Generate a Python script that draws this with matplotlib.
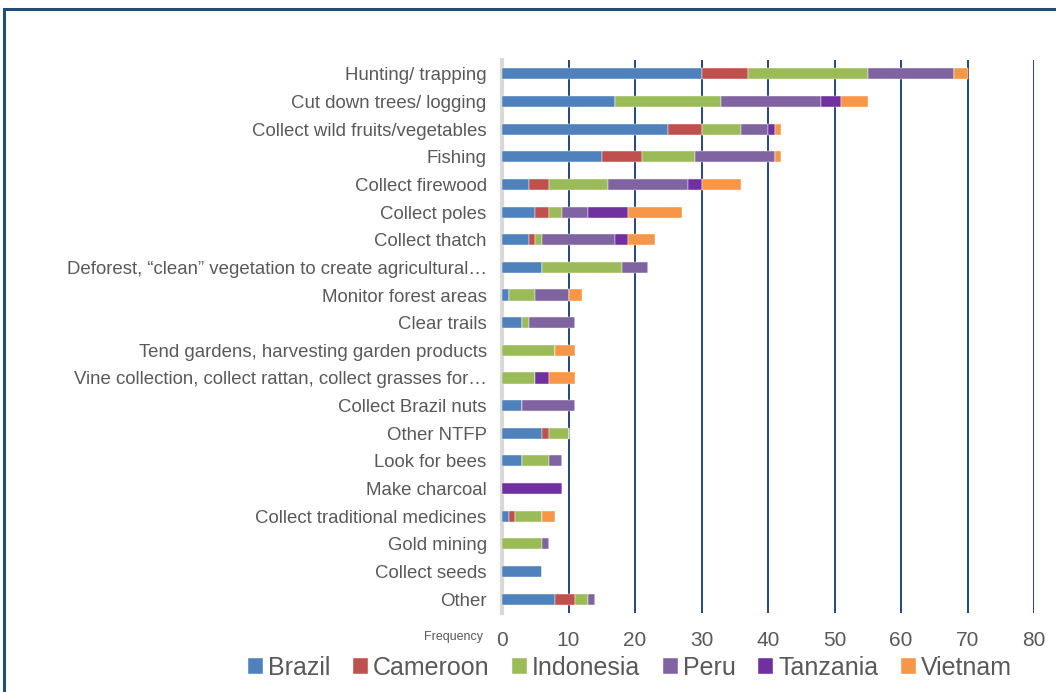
import matplotlib
matplotlib.use("Agg")
import matplotlib.pyplot as plt
from matplotlib.patches import Rectangle
import numpy as np

categories = [
    "Hunting/ trapping",
    "Cut down trees/ logging",
    "Collect wild fruits/vegetables",
    "Fishing",
    "Collect firewood",
    "Collect poles",
    "Collect thatch",
    "Deforest, \u201cclean\u201d vegetation to create agricultural\u2026",
    "Monitor forest areas",
    "Clear trails",
    "Tend gardens, harvesting garden products",
    "Vine collection, collect rattan, collect grasses for\u2026",
    "Collect Brazil nuts",
    "Other NTFP",
    "Look for bees",
    "Make charcoal",
    "Collect traditional medicines",
    "Gold mining",
    "Collect seeds",
    "Other",
]

brazil    = [30, 17, 25, 15, 4, 5, 4, 6, 1, 3, 0, 0, 3, 6, 3, 0, 1, 0, 6, 8]
cameroon  = [7, 0, 5, 6, 3, 2, 1, 0, 0, 0, 0, 0, 0, 1, 0, 0, 1, 0, 0, 3]
indonesia = [18, 16, 6, 8, 9, 2, 1, 12, 4, 1, 8, 5, 0, 3, 4, 0, 4, 6, 0, 2]
peru      = [13, 15, 4, 12, 12, 4, 11, 4, 5, 7, 0, 0, 8, 0, 2, 0, 0, 1, 0, 1]
tanzania  = [0, 3, 1, 0, 2, 6, 2, 0, 0, 0, 0, 2, 0, 0, 0, 9, 0, 0, 0, 0]
vietnam   = [2, 4, 1, 1, 6, 8, 4, 0, 2, 0, 3, 4, 0, 0, 0, 0, 2, 0, 0, 0]

series = [
    ("Brazil", brazil, "#4F81BD"),
    ("Cameroon", cameroon, "#C0504D"),
    ("Indonesia", indonesia, "#9BBB59"),
    ("Peru", peru, "#8064A2"),
    ("Tanzania", tanzania, "#7030A0"),
    ("Vietnam", vietnam, "#F79646"),
]

plt.rcParams['font.family'] = ['Liberation Sans', 'DejaVu Sans']
txt = "#595959"

fig = plt.figure(figsize=(10.56, 6.92), dpi=100)
ax = fig.add_axes([502 / 1056, 1 - 613 / 692, 532 / 1056, 553 / 692])

y = np.arange(len(categories))
left = np.zeros(len(categories))
for name, vals, col in series:
    vals = np.array(vals, dtype=float)
    ax.barh(y, vals, left=left, height=0.4, color=col, label=name,
            edgecolor="white", linewidth=0.3, zorder=3)
    left += vals

ax.set_xlim(0, 80)
ax.set_ylim(len(categories) - 0.5, -0.5)
ax.set_xticks(range(0, 81, 10))
ax.set_yticks(y)
ax.set_yticklabels(categories, fontsize=13.4, color=txt)
for lab in ax.get_xticklabels():
    lab.set_fontsize(15)
    lab.set_color(txt)
ax.tick_params(axis='both', length=0)
ax.tick_params(axis='x', pad=13)
ax.tick_params(axis='y', pad=11)
ax.grid(axis='x', color="#24457F", linewidth=1.4, zorder=0)
for s in ["top", "right", "bottom"]:
    ax.spines[s].set_visible(False)
ax.spines["left"].set_color("#D9D9D9")
ax.spines["left"].set_linewidth(3)
ax.spines["left"].set_zorder(2)

fig.text(483 / 1056, 1 - 637 / 692, "Frequency", fontsize=9, color=txt,
         ha="right", va="center")

handles, labels = ax.get_legend_handles_labels()
fig.legend(handles, labels, loc="center", ncol=6,
           bbox_to_anchor=(630 / 1056, 1 - 668 / 692), frameon=False,
           prop={'size': 18}, labelcolor=txt,
           handlelength=0.6, handleheight=0.6, handletextpad=0.2,
           columnspacing=0.9)

fig.patches.append(Rectangle((4 / 1056, -0.05), 1.1, 1 - 9 / 692 + 0.05,
                             transform=fig.transFigure, fill=False,
                             edgecolor="#1F4E79", linewidth=2.2))

fig.savefig("out.png", dpi=100)
